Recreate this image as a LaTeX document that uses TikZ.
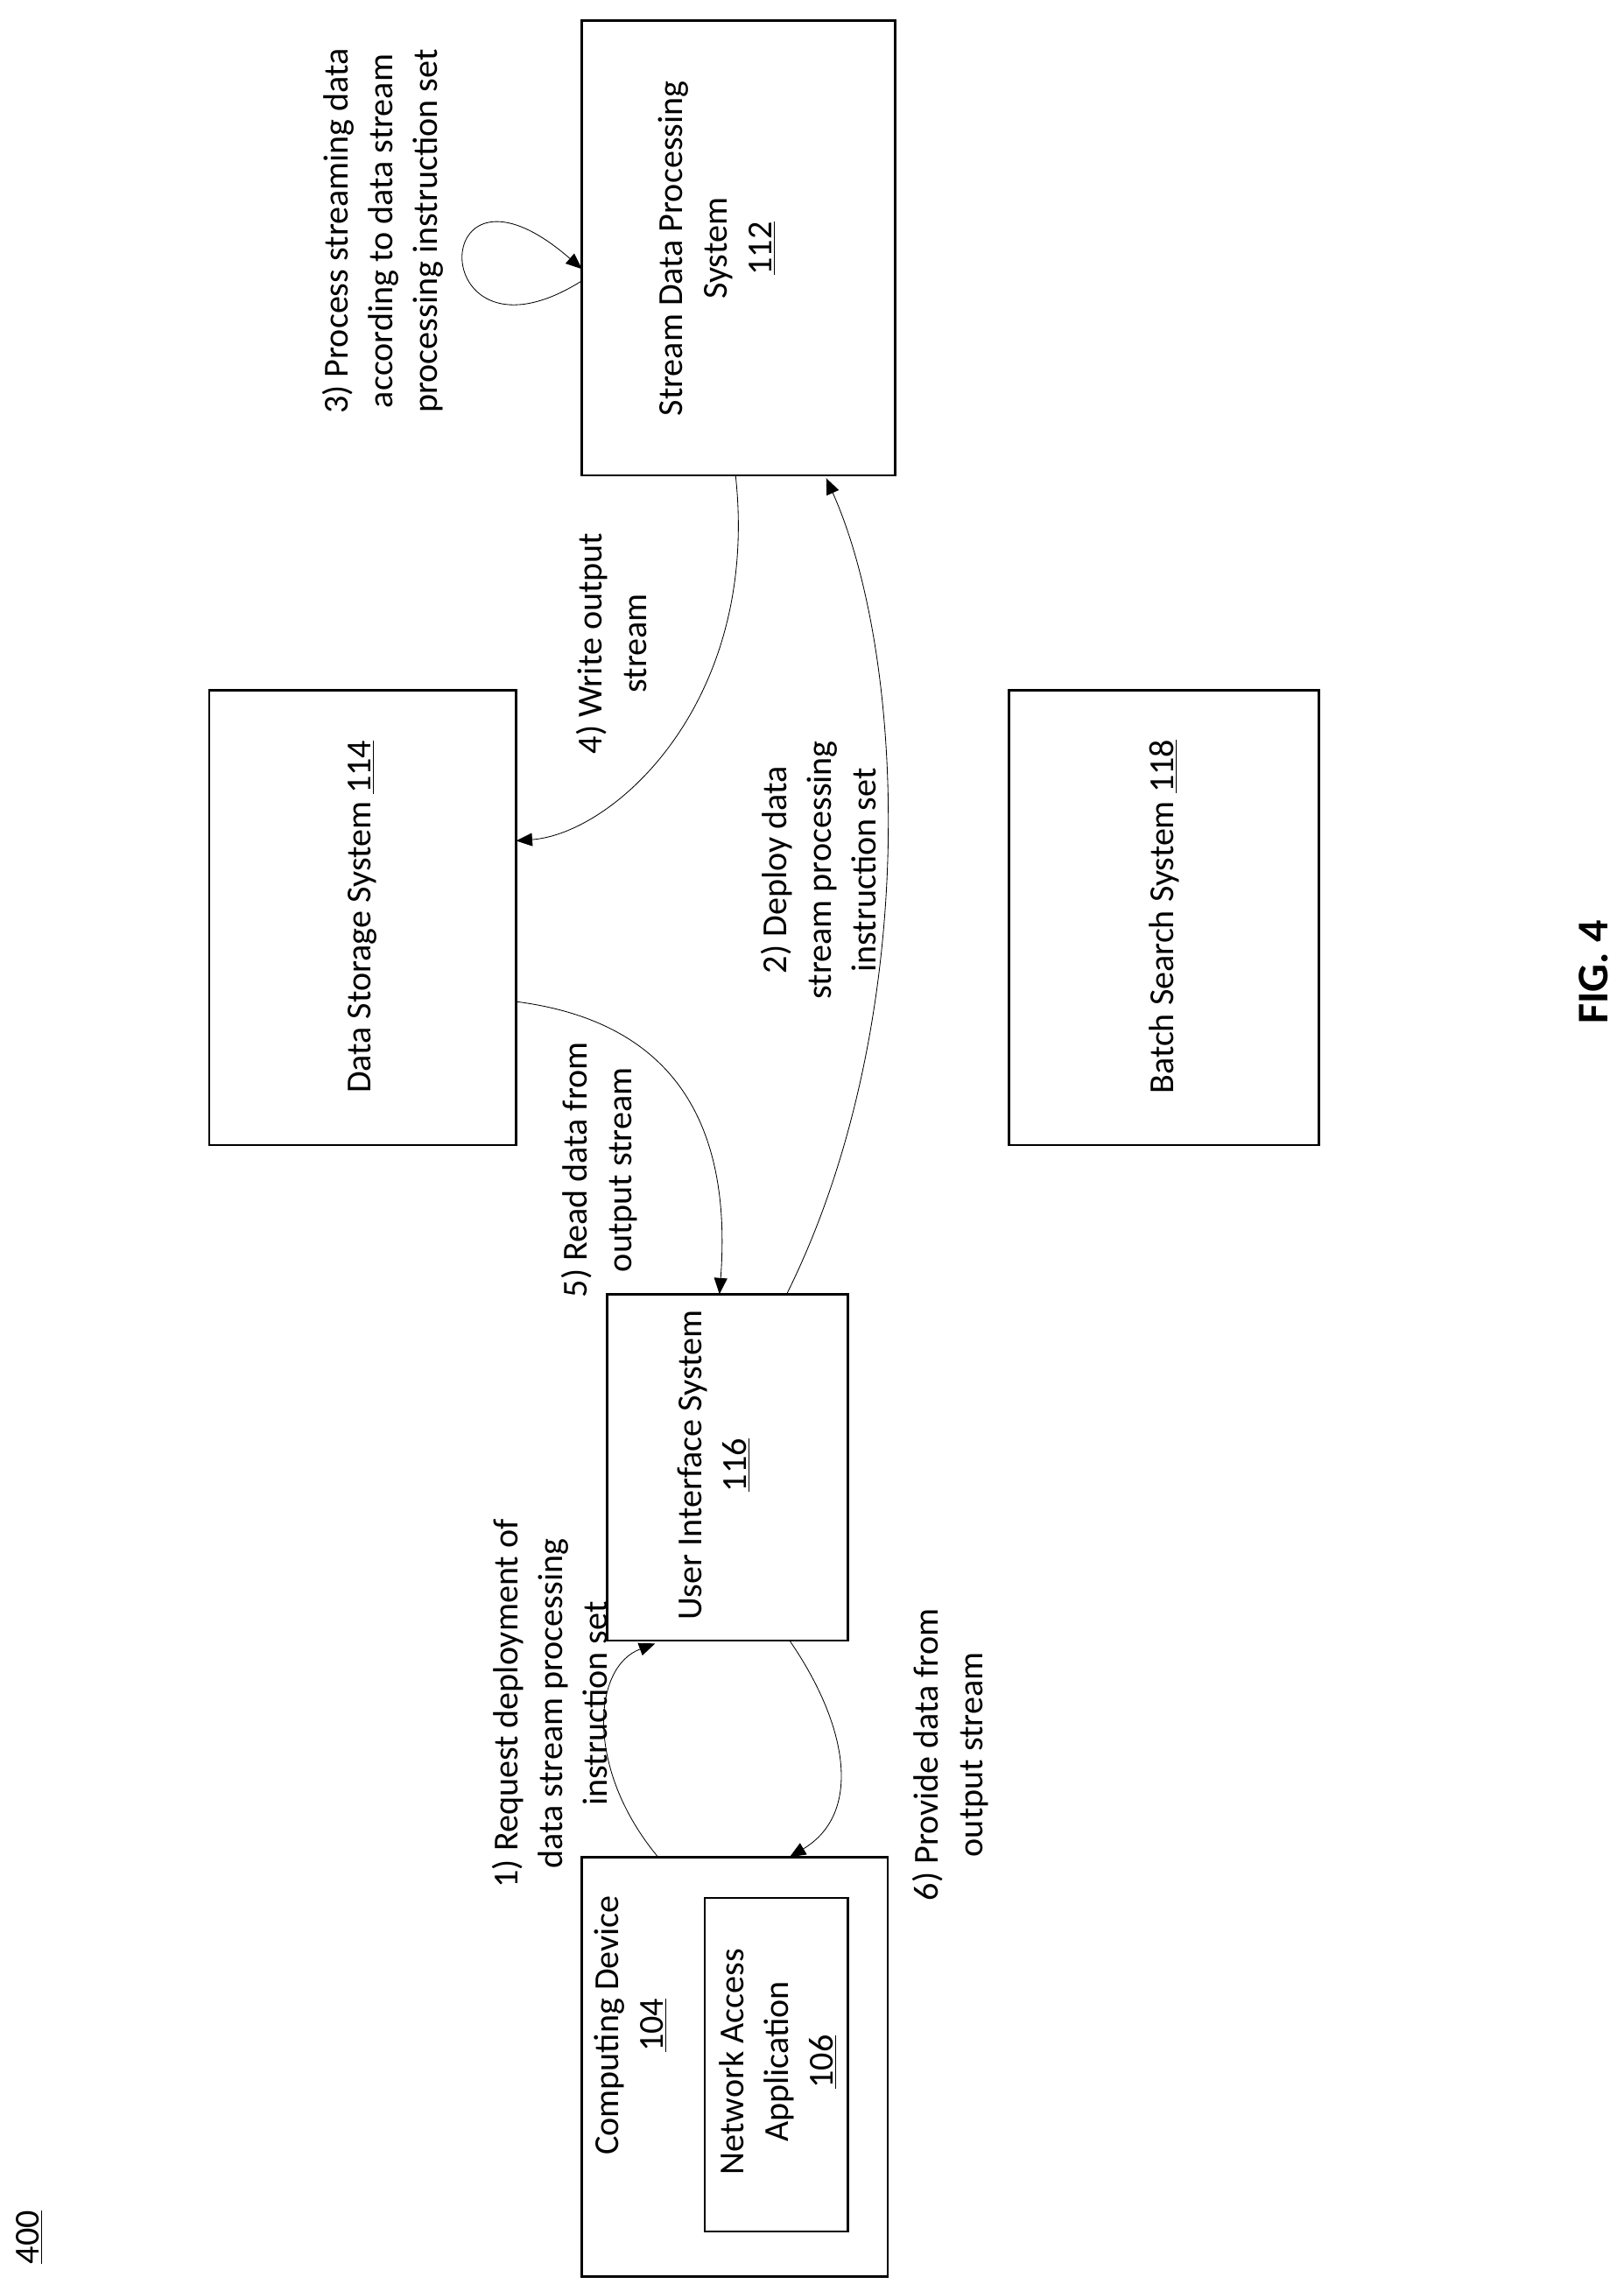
\documentclass[tikz,border=0pt]{standalone}
\usepackage{fontspec}
\setmainfont{Carlito}
\usetikzlibrary{arrows.meta}
\begin{document}
\begin{tikzpicture}[x=1pt,y=-1pt,
  box/.style={draw,line width=1.6pt,inner sep=0pt},
  txt/.style={rotate=90,align=center,inner sep=0pt,font=\fontsize{24}{30.5}\selectfont},
  arr/.style={line width=0.5pt,-{Triangle[length=11pt,width=9pt]}}]
\useasboundingbox (0,0) rectangle (1110,1562);
% boxes
\node[box,minimum width=214pt,minimum height=311pt] (sdps) at (505,169.5) {};
\node[box,minimum width=210pt,minimum height=311pt] (dss) at (248,627.5) {};
\node[box,minimum width=212pt,minimum height=311pt] (bss) at (796,627.5) {};
\node[box,minimum width=165pt,minimum height=237pt] (ui) at (497.5,1003.5) {};
\node[box,minimum width=209pt,minimum height=287pt] (cd) at (502.5,1413.5) {};
\node[box,minimum width=98pt,minimum height=228pt] (naa) at (531,1412) {};
% box texts
\node[txt] (tsdps) at (490,170) {Stream Data Processing\\System\\\underline{112}};
\node[txt] (tdss) at (248,627) {Data Storage System \underline{114}};
\node[txt] (tbss) at (796,627) {Batch Search System \underline{118}};
\node[txt] (tui) at (488,1002) {User Interface System\\\underline{116}};
\node[txt] (tcd) at (431,1385) {Computing Device\\\underline{104}};
\node[txt] (tnaa) at (532,1410) {Network Access\\Application\\\underline{106}};
\node[txt] (n400) at (20,1530) {\underline{400}};
\node[txt,font=\fontsize{30}{36}\selectfont\bfseries] (fig) at (1090,665) {FIG. 4};
% connector ends
\coordinate (c1a) at (450,1270); \coordinate (c1b) at (448,1124);
\coordinate (c2a) at (538,885);  \coordinate (c2b) at (565,327);
\coordinate (c3a) at (398,192);  \coordinate (c3b) at (398,184);
\coordinate (c4a) at (503,325);  \coordinate (c4b) at (353,575);
\coordinate (c5a) at (353,685);  \coordinate (c5b) at (492,885);
\coordinate (c6a) at (540,1122); \coordinate (c6b) at (540,1270);
\draw[arr] (c1a) .. controls (400,1210) and (405,1140) .. (c1b);
\draw[arr] (c2a) .. controls (630,700) and (620,450) .. (c2b);
\draw[arr] (c3a) .. controls (290,260) and (290,90) .. (c3b);
\draw[arr] (c4a) .. controls (520,480) and (420,570) .. (c4b);
\draw[arr] (c5a) .. controls (470,700) and (500,780) .. (c5b);
\draw[arr] (c6a) .. controls (580,1180) and (590,1240) .. (c6b);
% labels
\node[txt] (l1) at (376,1165) {1) Request deployment of\\data stream processing\\instruction set};
\node[txt] (l2) at (560,595) {2) Deploy data\\stream processing\\instruction set};
\node[txt] (l3) at (262,158) {3) Process streaming data\\according to data stream\\processing instruction set};
\node[txt] (l4) at (418,440) {4) Write output\\stream};
\node[txt] (l5) at (410,800) {5) Read data from\\output stream};
\node[txt] (l6) at (650,1200) {6) Provide data from\\output stream};
\end{tikzpicture}
\end{document}
